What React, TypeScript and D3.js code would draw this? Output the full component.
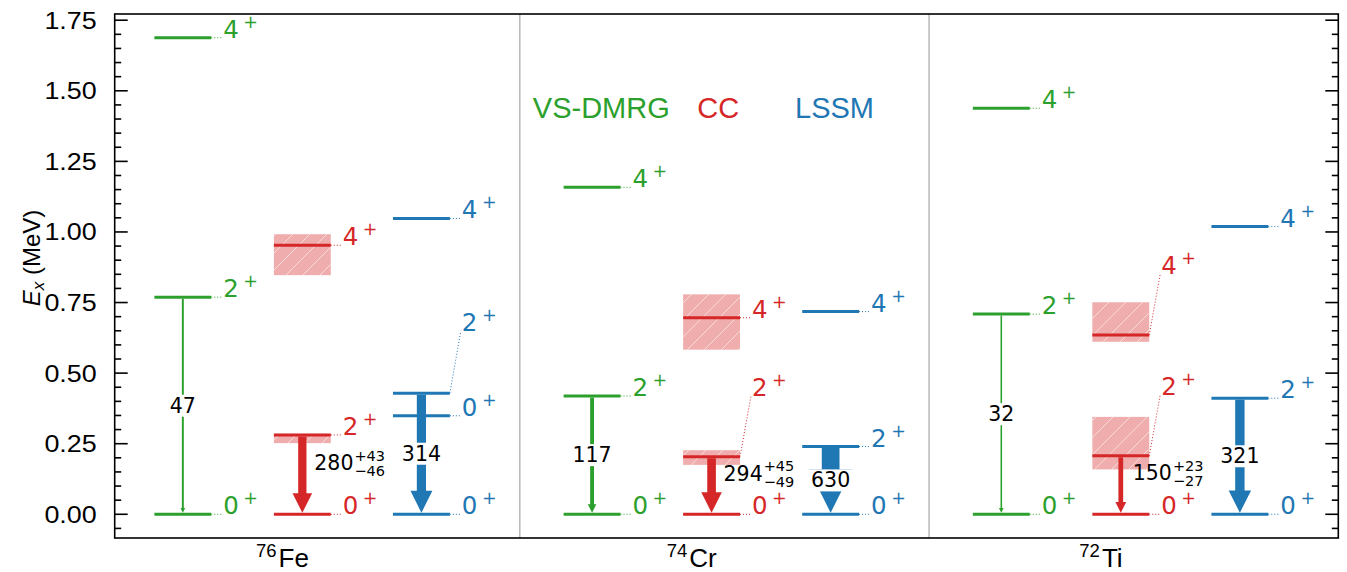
import React from "react";
import * as d3 from "d3";

// ---------------- data ----------------
const nuclei = ["Fe", "Cr", "Ti"];
const massNumbers = ["76", "74", "72"];
const methods = ["VS-DMRG", "CC", "LSSM"];
const colors = ["#2ca02c", "#d62728", "#1f77b4"];
const yTicks = [0, 0.25, 0.5, 0.75, 1.0, 1.25, 1.5, 1.75];
const yTickLabels = ["0.00", "0.25", "0.50", "0.75", "1.00", "1.25", "1.50", "1.75"];

// VS-DMRG (green)
const dmrgE2 = [0.769, 0.419, 0.709];
const dmrgE4 = [1.688, 1.158, 1.438];
const dmrgBE2 = [47, 117, 32];

// CC (red) with uncertainty bands
const ccE2 = [0.281, 0.204, 0.207];
const ccE2Low = [0.252, 0.175, 0.159];
const ccE2High = [0.285, 0.227, 0.345];
const ccE4 = [0.953, 0.696, 0.635];
const ccE4Low = [0.847, 0.583, 0.611];
const ccE4High = [0.992, 0.779, 0.751];
const ccBE2 = [280, 294, 150];
const ccBE2Plus = [43, 45, 23];
const ccBE2Minus = [46, 49, 27];
const ccE2LabelAt = [0.281, 0.419, 0.423];
const ccE4LabelAt = [0.953, 0.696, 0.851];

// LSSM (blue)
const lssmE2 = [0.429, 0.24, 0.411];
const lssmE4 = [1.048, 0.718, 1.019];
const lssmE0b = [0.349, null, null];
const lssmBE2 = [314, 630, 321];
const lssmE2LabelAt = [0.65, 0.24, 0.411];

// ---------------- layout ----------------
const W = 1347;
const H = 572;
const x = d3.scaleLinear().domain([0.01, 3]).range([114.7, 1338.3]);
const y = d3.scaleLinear().domain([-0.084, 1.772]).range([538, 14]);
const colLeft = [0.107, 0.399, 0.69];
const levelWidth = 0.139;
const titleX = [1.199, 1.485, 1.769];
const titleE = 1.403;
const xLabelOffset = 0.42;
const bwCore = d3.scaleLinear().domain([0, 37]).range([0, 1]);

const SANS = "'Liberation Sans', Arial, sans-serif";
const MATH = "'DejaVu Sans', sans-serif";

type Level = { E: number; spin: string; labelE: number; band?: [number, number] };

function buildLevels(i: number, m: number): Level[] {
  if (m === 0) {
    return [
      { E: 0, spin: "0", labelE: 0 },
      { E: dmrgE2[i], spin: "2", labelE: dmrgE2[i] },
      { E: dmrgE4[i], spin: "4", labelE: dmrgE4[i] },
    ];
  }
  if (m === 1) {
    return [
      { E: 0, spin: "0", labelE: 0 },
      { E: ccE2[i], spin: "2", labelE: ccE2LabelAt[i], band: [ccE2Low[i], ccE2High[i]] },
      { E: ccE4[i], spin: "4", labelE: ccE4LabelAt[i], band: [ccE4Low[i], ccE4High[i]] },
    ];
  }
  const lv: Level[] = [
    { E: 0, spin: "0", labelE: 0 },
    { E: lssmE2[i], spin: "2", labelE: lssmE2LabelAt[i] },
    { E: lssmE4[i], spin: "4", labelE: lssmE4[i] },
  ];
  const e0 = lssmE0b[i];
  if (e0 !== null) lv.push({ E: e0, spin: "0", labelE: e0 });
  return lv;
}

function Arrow({ cx, e1, value, color, label }: { cx: number; e1: number; value: number; color: string; label?: boolean }) {
  const core = bwCore(value);
  const w = core + 0.7;
  const hw = Math.max(2.5 * core, 4) + 0.7;
  const hl = hw;
  const top = y(e1) + 1.5;
  const tip = y(0) - 1.5;
  const base = tip - hl;
  const d = `M${cx - w / 2},${top} L${cx + w / 2},${top} L${cx + w / 2},${base} L${cx + hw / 2},${base} L${cx},${tip} L${cx - hw / 2},${base} L${cx - w / 2},${base} Z`;
  const mid = (y(e1) + y(0)) / 2;
  const txt = String(value);
  const fs = 20.5;
  const tw = txt.length * 0.636 * fs + 6;
  return (
    <g>
      <path d={d} fill={color} />
      {label && (
        <g>
          <rect x={cx - tw / 2} y={mid - 11} width={tw} height={22} fill="white" />
          <text x={cx} y={mid} textAnchor="middle" dominantBaseline="central" fontFamily={MATH} fontSize={fs} fill="black">
            {txt}
          </text>
        </g>
      )}
    </g>
  );
}

export default function App() {
  const panels = nuclei.map((_, i) => i);
  const minorTicks = d3.range(-0.05, 1.7501, 0.05).map((v) => Math.round(v * 100) / 100);
  const xl = x.range()[0];
  const xr = x.range()[1];
  return (
    <div style={{ position: "absolute", left: 0, top: 0 }}>
      <svg width={W} height={H} style={{ display: "block", background: "white" }}>
        <defs>
          <pattern id="hatch" patternUnits="userSpaceOnUse" width={17} height={17}>
            <path d="M0,17 L17,0 M-4,4 L4,-4 M13,21 L21,13" stroke="white" strokeOpacity={0.55} strokeWidth={1} />
          </pattern>
        </defs>

        {/* panel dividers */}
        {[1, 2].map((d) => (
          <line key={d} x1={x(d)} x2={x(d)} y1={y.range()[1]} y2={y.range()[0]} stroke="#a6a6a6" strokeWidth={1.2} />
        ))}

        {/* titles */}
        {methods.map((m, k) => (
          <text key={m} x={x(titleX[k])} y={y(titleE)} textAnchor="middle" fontFamily={SANS} fontSize={29} fill={colors[k]}>
            {m}
          </text>
        ))}

        {panels.map((i) =>
          [0, 1, 2].map((m) => {
            const x0 = x(i + colLeft[m]);
            const x1 = x(i + colLeft[m] + levelWidth);
            const cx = (x0 + x1) / 2;
            const color = colors[m];
            const levels = buildLevels(i, m);
            const upper = levels[1].E;
            return (
              <g key={`${i}-${m}`}>
                {levels.map((lv, k) =>
                  lv.band ? (
                    <g key={"b" + k}>
                      <rect x={x0} y={y(lv.band[1])} width={x1 - x0} height={y(lv.band[0]) - y(lv.band[1])} fill={color} fillOpacity={0.38} />
                      <rect x={x0} y={y(lv.band[1])} width={x1 - x0} height={y(lv.band[0]) - y(lv.band[1])} fill="url(#hatch)" />
                    </g>
                  ) : null
                )}
                {levels.map((lv, k) => {
                  const ly = y(lv.E);
                  const ty = y(lv.labelE);
                  const tx = x1 + 12;
                  return (
                    <g key={"l" + k}>
                      <line x1={x0} x2={x1} y1={ly} y2={ly} stroke={color} strokeWidth={3} />
                      <line x1={x1} x2={tx - 1} y1={ly} y2={ty} stroke={color} strokeWidth={1} strokeDasharray="1,2" />
                      <text x={tx} y={ty} fill={color} fontFamily={MATH} fontSize={24.5}>
                        {lv.spin}
                        <tspan dx={4.5} dy={-10} fontSize={17.5}>+</tspan>
                      </text>
                    </g>
                  );
                })}
                {m === 0 && <Arrow cx={cx} e1={upper} value={dmrgBE2[i]} color={color} label />}
                {m === 2 && <Arrow cx={cx} e1={upper} value={lssmBE2[i]} color={color} label />}
                {m === 1 && (
                  <g>
                    <Arrow cx={cx} e1={upper} value={ccBE2[i]} color={color} />
                    {(() => {
                      const mid = (y(upper) + y(0)) / 2;
                      const bx = cx + 12;
                      const by = mid - 4.7;
                      const main = String(ccBE2[i]);
                      const mw = main.length * 0.636 * 20.5;
                      return (
                        <g fontFamily={MATH} fill="black">
                          <text x={bx} y={by} fontSize={20.5}>{main}</text>
                          <text x={bx + mw + 1} y={by - 9.3} fontSize={14.5}>{"+" + ccBE2Plus[i]}</text>
                          <text x={bx + mw + 1} y={by + 5.9} fontSize={14.5}>{"\u2212" + ccBE2Minus[i]}</text>
                        </g>
                      );
                    })()}
                  </g>
                )}
              </g>
            );
          })
        )}

        {/* ticks */}
        {minorTicks.map((t) => {
          const isMajor = yTicks.some((v) => Math.abs(v - t) < 1e-6);
          const len = isMajor ? 13 : 6.5;
          return (
            <g key={"t" + t}>
              <line x1={xl} x2={xl + len} y1={y(t)} y2={y(t)} stroke="black" strokeWidth={1.6} />
              <line x1={xr} x2={xr - len} y1={y(t)} y2={y(t)} stroke="black" strokeWidth={1.6} />
            </g>
          );
        })}
        {yTicks.map((t, k) => (
          <text
            key={"tl" + t}
            transform={`translate(${xl - 18},${y(t)}) scale(1.12,1)`}
            textAnchor="end"
            dominantBaseline="central"
            fontFamily={SANS}
            fontSize={24}
            fill="black"
          >
            {yTickLabels[k]}
          </text>
        ))}

        {/* frame */}
        <rect x={xl} y={y.range()[1]} width={xr - xl} height={y.range()[0] - y.range()[1]} fill="none" stroke="black" strokeWidth={1.6} />

        {/* y label */}
        <text transform={`translate(40,258) rotate(-90)`} textAnchor="middle" fontFamily={SANS} fontSize={24} fill="black">
          <tspan fontStyle="italic">E</tspan>
          <tspan fontStyle="italic" fontSize={17} dy={4}>x</tspan>
          <tspan dy={-4}> (MeV)</tspan>
        </text>

        {/* x labels */}
        {nuclei.map((n, i) => (
          <text key={n} x={x(i + xLabelOffset)} y={567} textAnchor="middle" fontFamily={SANS} fontSize={26} fill="black">
            <tspan fontSize={18.5} dy={-10}>{massNumbers[i]}</tspan>
            <tspan dy={10} dx={2}>{n}</tspan>
          </text>
        ))}
      </svg>
    </div>
  );
}
